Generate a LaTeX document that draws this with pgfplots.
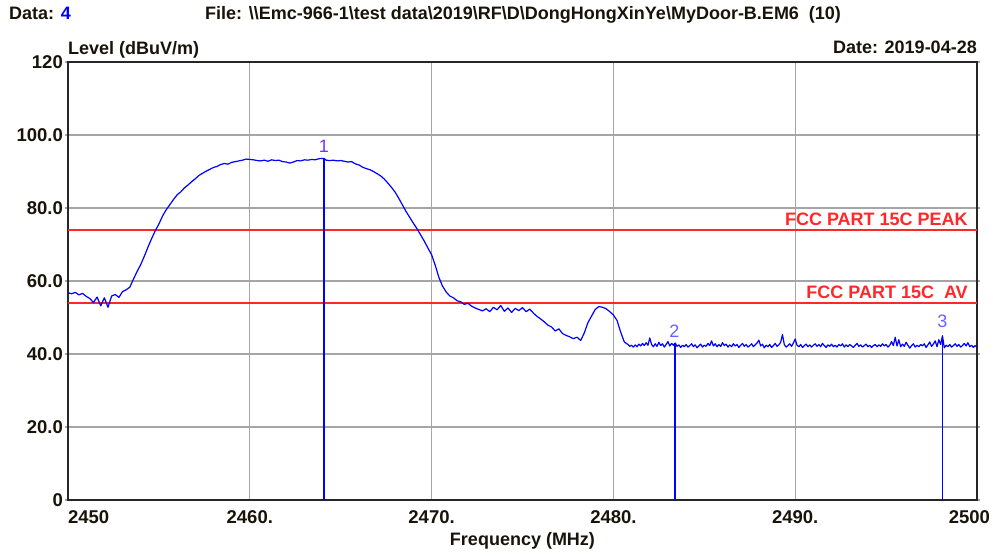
\documentclass[border=0pt]{standalone}
\usepackage{pgfplots}
\usepackage{pgfplotstable}
\usepackage{fontspec}
\pgfplotsset{compat=1.18}
\setmainfont{Liberation Sans}

\definecolor{trace}{RGB}{0,0,255}
\definecolor{limitred}{RGB}{255,40,40}
\definecolor{gridgray}{RGB}{165,165,165}
\definecolor{mklabA}{RGB}{120,50,255}
\definecolor{mklabB}{RGB}{100,100,255}
\definecolor{headtext}{RGB}{25,20,10}
\newcommand\bs{\textbackslash}

% Measured field strength, frequency (MHz) vs level (dBuV/m)
\pgfplotstableread{
f lvl
2450.0 56.8
2450.2 56.5
2450.4 56.9
2450.6 56.2
2450.8 56.6
2451.0 55.8
2451.2 55.2
2451.4 54.1
2451.6 55.6
2451.8 53.2
2452.0 55.4
2452.2 52.8
2452.4 55.9
2452.6 56.3
2452.8 55.5
2453.0 57.1
2453.2 57.6
2453.4 58.3
2453.6 60.5
2453.8 62.6
2454.0 64.5
2454.2 66.8
2454.4 69.3
2454.6 71.6
2454.8 73.8
2455.0 75.6
2455.2 77.8
2455.4 79.5
2455.6 80.9
2455.8 82.3
2456.0 83.6
2456.2 84.4
2456.4 85.5
2456.6 86.3
2456.8 87.2
2457.0 88.0
2457.2 88.9
2457.4 89.5
2457.6 90.1
2457.8 90.6
2458.0 91.1
2458.2 91.4
2458.4 91.9
2458.6 92.2
2458.8 92.0
2459.0 92.5
2459.2 92.7
2459.4 92.9
2459.6 93.1
2459.8 93.4
2460.0 93.3
2460.2 93.2
2460.4 93.0
2460.6 92.9
2460.8 93.1
2461.0 92.8
2461.2 93.2
2461.4 93.0
2461.6 93.1
2461.8 92.7
2462.0 92.6
2462.2 92.3
2462.4 92.6
2462.6 93.0
2462.8 92.9
2463.0 93.2
2463.2 93.1
2463.4 93.3
2463.6 93.2
2463.8 93.5
2464.08 93.6
2464.2 93.1
2464.4 93.0
2464.6 93.1
2464.8 92.9
2465.0 93.0
2465.2 92.8
2465.4 92.6
2465.6 92.7
2465.8 92.1
2466.0 91.8
2466.2 91.2
2466.4 90.8
2466.6 90.5
2466.8 90.0
2467.0 89.4
2467.2 88.8
2467.4 87.9
2467.6 86.8
2467.8 85.6
2468.0 84.3
2468.2 82.6
2468.4 80.8
2468.6 79.0
2468.8 77.4
2469.0 75.8
2469.2 74.3
2469.4 72.6
2469.6 70.9
2469.8 69.0
2470.0 67.2
2470.2 64.3
2470.4 61.0
2470.6 58.6
2470.8 57.0
2471.0 55.9
2471.2 55.4
2471.4 54.6
2471.6 54.3
2471.8 53.6
2472.0 53.9
2472.2 53.1
2472.4 52.6
2472.6 52.2
2472.8 51.8
2473.0 52.4
2473.2 51.6
2473.4 52.8
2473.6 52.1
2473.8 53.3
2474.0 51.7
2474.2 52.6
2474.4 51.4
2474.6 52.5
2474.8 51.9
2475.0 52.7
2475.2 51.6
2475.4 52.3
2475.6 51.2
2475.8 50.3
2476.0 49.6
2476.2 48.8
2476.4 47.9
2476.6 47.4
2476.8 46.3
2477.0 46.9
2477.2 45.6
2477.4 45.1
2477.6 44.7
2477.8 44.2
2478.0 44.6
2478.2 43.7
2478.4 45.8
2478.6 48.6
2478.8 50.4
2479.0 52.2
2479.2 53.0
2479.4 52.8
2479.6 52.4
2479.8 51.6
2480.0 50.7
2480.2 49.2
2480.4 46.0
2480.6 43.3
2480.8 42.6
2480.9 42.1
2481.0 42.4
2481.1 41.9
2481.2 42.5
2481.3 42.0
2481.4 42.7
2481.5 42.2
2481.6 42.9
2481.7 42.3
2481.8 43.1
2481.9 42.4
2482.0 44.4
2482.1 42.6
2482.2 42.0
2482.3 42.8
2482.4 42.1
2482.5 43.2
2482.6 42.3
2482.7 42.8
2482.8 41.9
2482.9 42.6
2483.0 43.4
2483.1 42.2
2483.2 42.9
2483.3 42.4
2483.4 43.0
2483.5 42.1
2483.6 42.5
2483.7 41.8
2483.8 42.4
2483.9 42.0
2484.0 42.6
2484.1 41.9
2484.2 42.3
2484.3 42.8
2484.4 42.0
2484.5 42.5
2484.6 41.7
2484.7 42.2
2484.8 42.7
2484.9 41.9
2485.0 42.4
2485.1 42.1
2485.2 42.9
2485.3 42.3
2485.4 43.6
2485.5 42.2
2485.6 42.8
2485.7 42.0
2485.8 42.6
2485.9 42.1
2486.0 43.1
2486.1 42.3
2486.2 42.7
2486.3 41.9
2486.4 42.5
2486.5 42.0
2486.6 42.8
2486.7 42.2
2486.8 42.6
2486.9 41.8
2487.0 42.4
2487.1 42.9
2487.2 42.1
2487.3 42.6
2487.4 41.9
2487.5 42.3
2487.6 42.8
2487.7 42.0
2487.8 42.5
2487.9 43.0
2488.0 43.8
2488.1 42.2
2488.2 42.7
2488.3 41.7
2488.4 42.4
2488.5 42.0
2488.6 42.6
2488.7 41.8
2488.8 42.3
2488.9 42.9
2489.0 42.1
2489.1 42.5
2489.2 43.2
2489.3 45.3
2489.4 42.6
2489.5 41.9
2489.6 42.3
2489.7 42.8
2489.8 42.1
2489.9 43.0
2490.0 44.1
2490.1 42.4
2490.2 42.0
2490.3 42.6
2490.4 41.8
2490.5 42.3
2490.6 42.7
2490.7 42.0
2490.8 42.5
2490.9 41.9
2491.0 42.4
2491.1 42.8
2491.2 42.1
2491.3 42.6
2491.4 42.0
2491.5 42.9
2491.6 42.3
2491.7 41.8
2491.8 42.5
2491.9 42.1
2492.0 42.7
2492.1 42.0
2492.2 42.4
2492.3 41.9
2492.4 42.6
2492.5 42.2
2492.6 42.8
2492.7 41.9
2492.8 42.5
2492.9 42.0
2493.0 42.6
2493.1 42.2
2493.2 41.8
2493.3 42.4
2493.4 42.9
2493.5 42.1
2493.6 42.5
2493.7 41.9
2493.8 42.3
2493.9 42.7
2494.0 42.0
2494.1 42.4
2494.2 41.8
2494.3 42.3
2494.4 42.6
2494.5 42.0
2494.6 42.5
2494.7 42.1
2494.8 42.8
2494.9 42.2
2495.0 42.6
2495.1 41.9
2495.2 42.4
2495.3 43.4
2495.4 42.3
2495.5 44.6
2495.6 42.2
2495.7 43.9
2495.8 42.0
2495.9 42.7
2496.0 42.1
2496.1 43.2
2496.2 42.4
2496.3 41.6
2496.4 42.3
2496.5 42.8
2496.6 41.9
2496.7 42.4
2496.8 42.0
2496.9 42.6
2497.0 42.2
2497.1 42.8
2497.2 41.8
2497.3 42.5
2497.4 43.3
2497.5 42.1
2497.6 42.7
2497.7 43.6
2497.8 42.0
2497.9 43.9
2498.0 42.6
2498.1 45.0
2498.2 41.7
2498.3 42.4
2498.4 42.0
2498.5 42.6
2498.6 41.9
2498.7 42.3
2498.8 42.8
2498.9 42.1
2499.0 42.6
2499.1 41.9
2499.2 42.3
2499.3 42.9
2499.4 42.2
2499.5 43.1
2499.6 42.0
2499.7 42.4
2499.8 41.8
2499.9 42.3
2500.0 41.9
}\trace

\begin{document}
\begin{tikzpicture}[
  every node/.style={font=\bfseries\fontsize{18}{20}\selectfont, text=headtext}]
\useasboundingbox (0pt,0pt) rectangle (993pt,556pt);

% header line
\node[anchor=base west, inner sep=0pt] at (9pt,536pt) {Data: \textcolor{trace}{4}};
\node[anchor=base west, inner sep=0pt] at (205pt,536pt)
  {File: \bs\bs Emc-966-1\bs test data\bs 2019\bs RF\bs D\bs DongHongXinYe\bs MyDoor-B.EM6~~(10)};

\begin{axis}[
  at={(68pt,56pt)}, anchor=south west,
  scale only axis, width=909pt, height=438pt,
  xmin=2450, xmax=2500, ymin=0, ymax=120,
  xtick={2450,2460,2470,2480,2490,2500},
  xticklabels={{\makebox[0pt][l]{2450}},2460.,2470.,2480.,2490.,{\makebox[0pt][r]{2500\hspace*{-13pt}}}},
  ytick={0,20,40,60,80,100,120},
  yticklabels={0,20.0,40.0,60.0,80.0,100.0,120},
  grid=major,
  major grid style={gridgray, line width=1.3pt},
  axis line style={line width=1.8pt, black!85},
  xtick style={draw=none},
  ytick style={gridgray, line width=1.3pt},
  tick align=outside, major tick length=3pt,
  ticklabel style={font=\bfseries\fontsize{18.5}{20}\selectfont, text=headtext, inner sep=0pt},
  xticklabel style={yshift=-7pt},
  yticklabel style={xshift=-2pt},
  xlabel={Frequency (MHz)},
  xlabel style={font=\bfseries\fontsize{18}{20}\selectfont, text=headtext, inner sep=0pt, at={(0.5,0)}, anchor=base, yshift=-46pt},
  clip=true,
]
% limit lines
\addplot[limitred, line width=1.6pt] coordinates {(2450,74) (2500,74)};
\addplot[limitred, line width=1.6pt] coordinates {(2450,54) (2500,54)};
% trace
\addplot[trace, line width=1.2pt, line join=round] table[x=f, y=lvl] {\trace};
% marker lines
\addplot[trace, line width=1.5pt] coordinates {(2464.08,0) (2464.08,93.6)};
\addplot[trace, line width=1.5pt] coordinates {(2483.4,0) (2483.4,43.0)};
\addplot[trace, line width=1.5pt] coordinates {(2498.1,0) (2498.1,45.0)};

\node[anchor=base east, inner sep=0pt, text=limitred] at (axis cs:2499.5,75.3) {FCC PART 15C PEAK};
\node[anchor=base east, inner sep=0pt, text=limitred] at (axis cs:2499.5,55.3) {FCC PART 15C\ \ AV};

\node[font=\fontsize{18}{20}\selectfont, text=mklabA, inner sep=0pt] at (axis cs:2464.08,96.8) {1};
\node[font=\fontsize{18}{20}\selectfont, text=mklabB, inner sep=0pt] at (axis cs:2483.36,46.3) {2};
\node[font=\fontsize{18}{20}\selectfont, text=mklabB, inner sep=0pt] at (axis cs:2498.1,48.9) {3};
\end{axis}

\node[anchor=base west, inner sep=0pt] at (68pt,501pt) {Level (dBuV/m)};
\node[anchor=base east, inner sep=0pt] at (977pt,502pt) {Date: 2019-04-28};
\end{tikzpicture}
\end{document}
